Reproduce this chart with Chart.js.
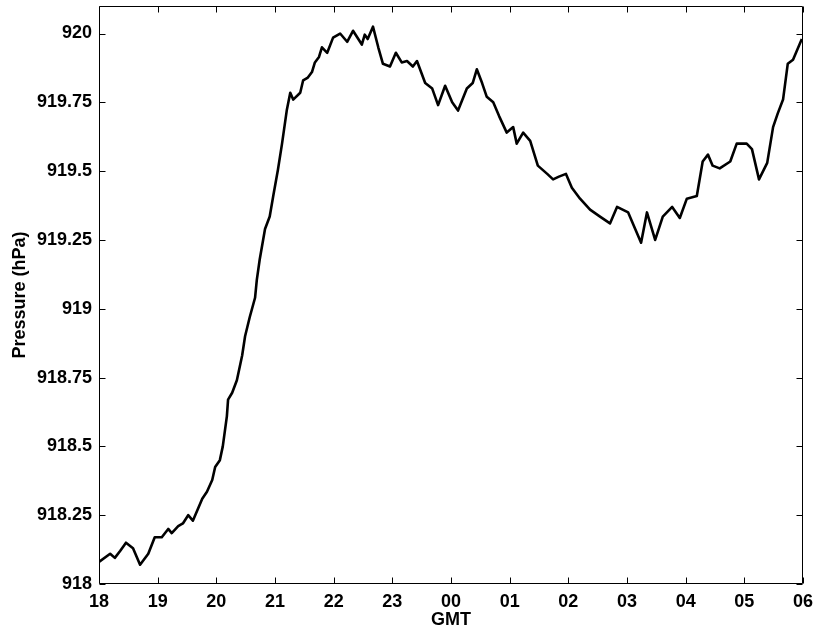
<!DOCTYPE html>
<html>
<head>
<meta charset="utf-8">
<script src="https://cdn.jsdelivr.net/npm/chart.js@4/dist/chart.umd.min.js"></script>
<style>
html,body{margin:0;padding:0;background:#fff;}
#wrap{width:814px;height:630px;}
</style>
</head>
<body>
<div id="wrap"><canvas id="c" width="814" height="630"></canvas></div>
<script>
// Hours elapsed since 18 GMT
const hours = [0.00,0.19,0.27,0.36,0.46,0.58,0.70,0.84,0.95,1.07,1.18,1.24,1.35,1.43,1.52,1.60,1.76,1.84,1.93,1.98,
2.06,2.11,2.18,2.20,2.27,2.35,2.44,2.49,2.57,2.66,2.69,2.74,2.83,2.91,2.97,3.05,3.12,3.20,3.26,3.31,
3.43,3.48,3.56,3.63,3.68,3.75,3.80,3.89,3.99,4.11,4.23,4.33,4.48,4.53,4.58,4.67,4.76,4.84,4.96,5.06,
5.16,5.25,5.35,5.42,5.56,5.68,5.78,5.90,6.02,6.12,6.27,6.37,6.44,6.53,6.61,6.72,6.82,6.95,7.06,7.12,
7.23,7.35,7.48,7.64,7.74,7.84,7.96,8.06,8.20,8.37,8.54,8.71,8.83,9.02,9.14,9.24,9.34,9.48,9.61,9.77,
9.90,10.02,10.19,10.29,10.38,10.46,10.58,10.76,10.87,11.04,11.13,11.25,11.39,11.49,11.57,11.66,11.74,11.83,11.98];
// Pressure (hPa)
const pressure = [918.08,918.11,918.095,918.12,918.15,918.13,918.07,918.11,918.17,918.17,918.20,918.185,918.21,918.22,918.25,918.23,918.31,918.335,918.378,918.425,
918.45,918.50,918.61,918.67,918.695,918.74,918.83,918.90,918.97,919.04,919.105,919.18,919.29,919.335,919.41,919.505,919.60,919.72,919.785,919.76,
919.785,919.83,919.84,919.86,919.895,919.915,919.95,919.93,919.985,920.0,919.97,920.01,919.96,919.996,919.98,920.025,919.95,919.89,919.88,919.93,
919.895,919.90,919.88,919.90,919.82,919.80,919.74,919.81,919.75,919.72,919.80,919.82,919.87,919.82,919.77,919.75,919.70,919.64,919.66,919.60,
919.64,919.61,919.52,919.49,919.47,919.48,919.49,919.44,919.40,919.36,919.335,919.31,919.37,919.35,919.29,919.24,919.35,919.25,919.335,919.37,
919.33,919.40,919.41,919.535,919.56,919.52,919.51,919.535,919.60,919.60,919.58,919.47,919.53,919.66,919.71,919.76,919.89,919.905,919.98];

const xTickValues = [0,1,2,3,4,5,6,7,8,9,10,11,12];
const xTickLabels = ['18','19','20','21','22','23','00','01','02','03','04','05','06'];
const yTickValues = [918,918.25,918.5,918.75,919,919.25,919.5,919.75,920];
const yTickLabels = ['918','918.25','918.5','918.75','919','919.25','919.5','919.75','920'];

const points = hours.map((h,i)=>({x:h,y:pressure[i]}));

const boxPlugin = {
  id:'box',
  afterDraw(chart){
    const {ctx, chartArea:a, scales:{x,y}} = chart;
    ctx.save();
    ctx.strokeStyle = '#000';
    ctx.lineWidth = 1;
    const L = Math.round(a.left)+0.5, R = Math.round(a.right)-0.5, T = Math.round(a.top)+0.5, B = Math.round(a.bottom)-0.5;
    ctx.beginPath();
    ctx.rect(L, T, R-L, B-T);
    ctx.stroke();
    const tl = 6;
    ctx.beginPath();
    xTickValues.forEach(v=>{
      const px = Math.round(x.getPixelForValue(v))+0.5;
      ctx.moveTo(px,B); ctx.lineTo(px,B-tl);
      ctx.moveTo(px,T); ctx.lineTo(px,T+tl);
    });
    yTickValues.forEach(v=>{
      const py = Math.round(y.getPixelForValue(v))+0.5;
      ctx.moveTo(L,py); ctx.lineTo(L+tl,py);
      ctx.moveTo(R,py); ctx.lineTo(R-tl,py);
    });
    ctx.stroke();
    ctx.restore();
  }
};

const font = {family:"'Liberation Sans', Arial, Helvetica, sans-serif", weight:'bold', size:18};

new Chart(document.getElementById('c'), {
  type:'line',
  data:{datasets:[{data:points, borderColor:'#000', borderWidth:2.6, borderJoinStyle:'round', pointRadius:0, tension:0, fill:false}]},
  options:{
    responsive:false,
    animation:false,
    devicePixelRatio:1,
    layout:{padding:{left:0, right:11, top:6, bottom:0}},
    plugins:{legend:{display:false}, tooltip:{enabled:false}},
    scales:{
      x:{
        type:'linear', min:0, max:12,
        afterBuildTicks(s){ s.ticks = xTickValues.map(v=>({value:v})); },
        afterFit(s){ s.height = 46; s.paddingLeft = 0; s.paddingRight = 0; },
        grid:{display:false, drawTicks:false},
        border:{display:false},
        ticks:{padding:7, color:'#000', font:font, maxRotation:0, autoSkip:false,
          callback:(v,i)=>xTickLabels[i]},
        title:{display:true, text:'GMT', color:'#000', font:font, padding:{top:0,bottom:-1}}
      },
      y:{
        type:'linear', min:918, max:920.1,
        afterBuildTicks(s){ s.ticks = yTickValues.map(v=>({value:v})); },
        afterFit(s){ s.width = 99; s.paddingTop = 0; s.paddingBottom = 0; },
        grid:{display:false, drawTicks:false},
        border:{display:false},
        ticks:{padding:7, color:'#000', font:font, autoSkip:false,
          callback:(v,i)=>yTickLabels[i]},
        title:{display:true, text:'Pressure (hPa)', color:'#000', font:font, padding:{top:9,bottom:0}}
      }
    }
  },
  plugins:[boxPlugin]
});
</script>
</body>
</html>
